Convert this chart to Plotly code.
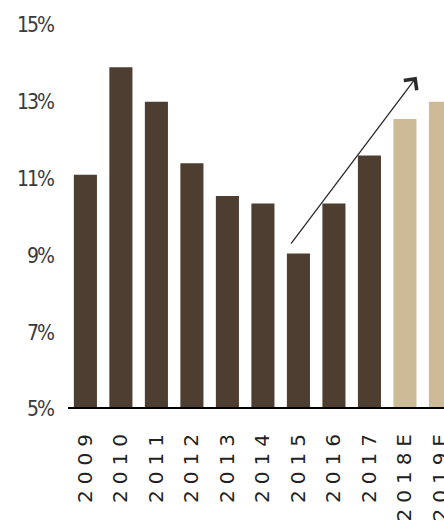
import plotly.graph_objects as go

years = ["2009", "2010", "2011", "2012", "2013", "2014", "2015", "2016", "2017", "2018E", "2019E"]
values = [11.1, 13.9, 13.0, 11.4, 10.55, 10.35, 9.05, 10.35, 11.6, 12.55, 13.0]
is_estimate = [False] * 9 + [True] * 2
y_ticks = [5, 7, 9, 11, 13, 15]
y_tick_labels = ["5%", "7%", "9%", "11%", "13%", "15%"]
arrow_start = (5.76, 9.27)
arrow_end = (9.33, 13.65)

DARK = "#4e3e31"
TAN = "#cdbb98"
colors = [TAN if e else DARK for e in is_estimate]

fig = go.Figure()
fig.add_trace(go.Bar(
    x=list(range(len(years))), y=values, base=0,
    marker=dict(color=colors, line=dict(width=0)),
    width=0.65,
))

fig.add_annotation(
    x=arrow_end[0], y=arrow_end[1], ax=arrow_start[0], ay=arrow_start[1],
    xref="x", yref="y", axref="x", ayref="y",
    showarrow=True, arrowhead=4, arrowsize=2.4, arrowwidth=1.3,
    arrowcolor="#2a2a2a", text="",
)

x_text = ['<span style="letter-spacing:6px">%s</span>' % y for y in years]
y_text = ['<span style="letter-spacing:-2px">%s</span>' % t for t in y_tick_labels]

fig.update_layout(
    width=444, height=522,
    margin=dict(l=68, r=0, t=25, b=113, autoexpand=False),
    plot_bgcolor="white", paper_bgcolor="white",
    showlegend=False,
    bargap=0.35,
)
fig.update_xaxes(
    range=[-0.49, 10.1],
    tickmode="array", tickvals=list(range(len(years))), ticktext=x_text,
    tickangle=-90,
    tickfont=dict(family="DejaVu Sans", size=20, color="#222222"),
    showgrid=False, zeroline=False,
    showline=False, automargin=False,
    ticks="", ticklabelstandoff=14,
    ticklabeloverflow="allow",
)
fig.update_yaxes(
    range=[5, 15],
    tickmode="array", tickvals=y_ticks, ticktext=y_text,
    tickfont=dict(family="Liberation Sans Narrow, DejaVu Sans Condensed, sans-serif", size=21, color="#3a3a3a"),
    showgrid=False, zeroline=False, showline=False, automargin=False,
    ticks="", ticklabelstandoff=14,
)
# baseline at 5%
fig.add_shape(type="line", xref="paper", yref="y", x0=0, x1=1, y0=5, y1=5,
              line=dict(color="black", width=4))

fig.write_html("out.html")
